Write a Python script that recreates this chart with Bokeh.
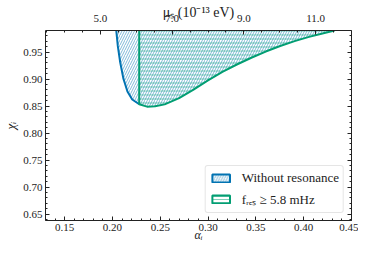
from bokeh.plotting import figure
from bokeh.models import (Range1d, LinearAxis, FixedTicker, SingleIntervalTicker,
                          PrintfTickFormatter, Legend, LegendItem, CustomJSTickFormatter)
from bokeh.embed import file_html
from bokeh.resources import INLINE

# ---- data ----
alpha_left = [0.2040, 0.2056, 0.2081, 0.2114, 0.2157, 0.2207, 0.2280]
chi_left = [0.9900, 0.9614, 0.9312, 0.9013, 0.8771, 0.8621, 0.8534]
alpha_right = [0.2280, 0.2362, 0.2446, 0.2546, 0.2697, 0.2848, 0.2999, 0.3150,
               0.3301, 0.3452, 0.3603, 0.3754, 0.3905, 0.4056, 0.4207, 0.4324]
chi_right = [0.8534, 0.8489, 0.8495, 0.8531, 0.8648, 0.8805, 0.8975, 0.9135,
             0.9270, 0.9395, 0.9510, 0.9612, 0.9703, 0.9782, 0.9850, 0.9900]
alpha_cut = 0.2280
chi_top = 0.9900
alpha_per_mu = 0.0375

mu_ticks = [5.0, 7.0, 9.0, 11.0]
mu_minor = [3.5 + 0.5 * i for i in range(18)]

labels = ["Without resonance", "f\u1d63\u2091\u209b \u2265 5.8 mHz"]

BLUE = "#0173b2"
GREEN = "#029e73"
INK = "#222222"
FONT = "Liberation Serif"

x0, x1 = 0.13, 0.45
y0, y1 = 0.638, 0.99

p = figure(width=358, height=244, x_range=Range1d(x0, x1), y_range=Range1d(y0, y1),
           output_backend="svg", toolbar_location=None,
           min_border_left=42, min_border_right=7, min_border_top=30, min_border_bottom=22)
p.xgrid.visible = False
p.ygrid.visible = False
p.outline_line_color = None
p.extra_x_ranges = {"mu": Range1d(x0 / alpha_per_mu, x1 / alpha_per_mu)}


def style(ax, size="11px"):
    ax.major_tick_in = 4
    ax.major_tick_out = 0
    ax.minor_tick_in = 2
    ax.minor_tick_out = 0
    ax.axis_line_color = INK
    ax.major_tick_line_color = INK
    ax.minor_tick_line_color = INK
    ax.major_label_text_font = FONT
    ax.major_label_text_font_size = size
    ax.major_label_text_color = INK
    ax.major_label_standoff = 3
    ax.axis_label_text_font = FONT
    ax.axis_label_text_font_size = "13px"
    ax.axis_label_text_color = INK


xa = p.xaxis[0]
xa.ticker = SingleIntervalTicker(interval=0.05, num_minor_ticks=5)
xa.formatter = PrintfTickFormatter(format="%.2f")
style(xa)
xa.axis_label = "\u03b1\u1d62"
xa.axis_label_text_font_style = "italic"
xa.axis_label_text_font_size = "12px"
xa.axis_label_standoff = -6

ya = p.yaxis[0]
ya.ticker = SingleIntervalTicker(interval=0.05, num_minor_ticks=5)
ya.formatter = PrintfTickFormatter(format="%.2f")
style(ya)
ya.axis_label = "\u03c7\u1d62"
ya.axis_label_text_font_style = "italic"
ya.axis_label_standoff = 2

ra = LinearAxis(ticker=SingleIntervalTicker(interval=0.05, num_minor_ticks=5),
                formatter=CustomJSTickFormatter(code="return ''"))
style(ra)
ra.major_label_standoff = 0
p.add_layout(ra, "right")

ta = LinearAxis(x_range_name="mu", ticker=FixedTicker(ticks=mu_ticks, minor_ticks=mu_minor),
                formatter=PrintfTickFormatter(format="%.1f"))
style(ta)
ta.axis_label = "\u03bc\u209b (10\u207b\u00b9\u00b3 eV)"
ta.axis_label_text_font_style = "normal"
ta.axis_label_text_font_size = "14px"
ta.major_label_standoff = 9
ta.axis_label_standoff = -8
p.add_layout(ta, "above")

# ---- regions ----
blue_x = alpha_left + alpha_right[1:]
blue_y = chi_left + chi_right[1:]
green_x = [alpha_cut] + alpha_right
green_y = [chi_top] + chi_right

p.patch(blue_x, blue_y, fill_color=None, line_color=None,
        hatch_pattern="/", hatch_color=BLUE, hatch_alpha=0.5, hatch_scale=5, hatch_weight=1)
p.patch(green_x, green_y, fill_color=None, line_color=None,
        hatch_pattern="-", hatch_color=GREEN, hatch_alpha=0.5, hatch_scale=4, hatch_weight=1)

p.line(alpha_left, chi_left, line_color=BLUE, line_width=2)
p.line(green_x, green_y, line_color=GREEN, line_width=2)

# legend proxies (hidden renderers carrying the same region data)
lb = p.patch(blue_x, blue_y, fill_color=None, line_color=BLUE, line_width=2,
             hatch_pattern="/", hatch_color=BLUE, hatch_alpha=0.5, hatch_scale=5, visible=False)
lg = p.patch(green_x, green_y, fill_color=None, line_color=GREEN, line_width=2,
             hatch_pattern="-", hatch_color=GREEN, hatch_alpha=0.5, hatch_scale=3, visible=False)

legend = Legend(items=[LegendItem(label=labels[0], renderers=[lb]),
                       LegendItem(label=labels[1], renderers=[lg])],
                location="bottom_right")
legend.margin = 7
legend.padding = 4
legend.spacing = 4
legend.label_height = 16
legend.glyph_height = 10
legend.glyph_width = 22
legend.label_standoff = 10
legend.label_text_font = FONT
legend.label_text_font_size = "13px"
legend.label_text_color = INK
legend.border_line_color = "#cccccc"
legend.border_line_width = 1
legend.background_fill_alpha = 0.8
legend.inactive_fill_alpha = 0.0
if "border_radius" in Legend.properties():
    legend.border_radius = 3
p.add_layout(legend)

open("out.html", "w").write(file_html(p, INLINE))
